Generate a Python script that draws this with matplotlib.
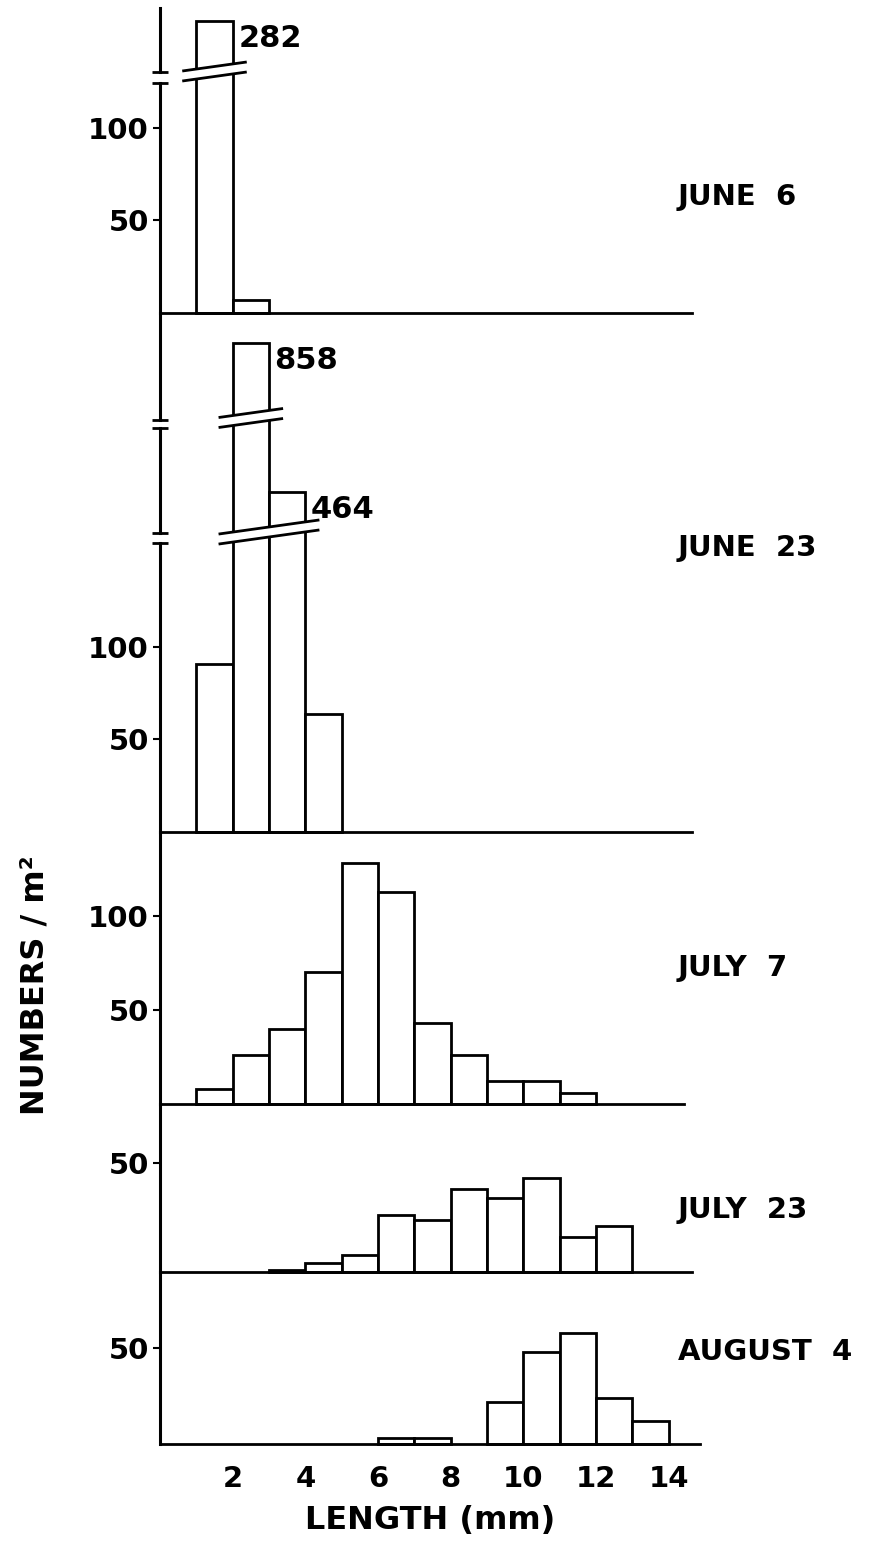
import numpy as np
import matplotlib.pyplot as plt
from matplotlib.patches import Polygon
from matplotlib.transforms import blended_transform_factory

plt.rcParams['font.family'] = ['DejaVu Sans']
plt.rcParams['font.weight'] = 'bold'

# left edge (mm) of each 1 mm length class
class_start = np.arange(1, 14)
length_ticks = [2, 4, 6, 8, 10, 12, 14]

# numbers / m2 in each length class, first class is 1-2 mm
june6 = [282, 7]
june23 = [91, 858, 464, 64]
july7 = [8, 26, 40, 70, 128, 113, 43, 26, 12, 12, 6]
july23 = [0, 0, 1, 4, 8, 26, 24, 38, 34, 43, 16, 21]
aug4 = [0, 0, 0, 0, 0, 3, 3, 0, 22, 48, 58, 24, 12]

dates = ["JUNE  6", "JUNE  23", "JULY  7", "JULY  23", "AUGUST  4"]
series = [june6, june23, july7, july23, aug4]

# ---- layout (pixels) ----
W, H = 878, 1541
X0 = 160          # px of 0 mm
MM = 36.33        # px per mm
XMAX = 14.9
SLOPE = 0.14      # slant of the break marks
GAP = 10          # px between the two break lines

# strips of every panel, top to bottom: (top px, bottom px, y-limits)
strips = [
    [(8, 72, (254.4, 289)), (83, 313, (0, 124.3))],
    [(313, 420, (816.4, 874.2)), (428, 533, (441.8, 498.6)), (543, 832, (0, 156.2))],
    [(832, 1104, (0, 144.7))],
    [(1104, 1272, (0, 77))],
    [(1272, 1444, (0, 89.6))],
]
baseline_end = [14.65, 14.65, 14.42, 14.64, 14.86]
label_y = [197, 548, 968, 1210, 1352]


def y_frac(px, top, bottom):
    return (bottom - px) / (bottom - top)


fig = plt.figure(figsize=(W / 100, H / 100), dpi=100)

for p, vals in enumerate(series):
    vals = np.array(vals)
    starts = class_start[:len(vals)]
    keep = vals > 0
    segs = strips[p]
    n = len(segs)

    # one pair of slanted break lines between neighbouring strips
    breaks = []
    for i in range(n - 1):
        broken = starts[vals > segs[i + 1][2][1]]
        xa, xb = broken.min() - 0.35, broken.max() + 1.35
        yc = (segs[i][1] + segs[i + 1][0]) / 2 - 6
        breaks.append((xa, xb, (xa + xb) / 2, yc))

    for i, (top, bottom, ylim) in enumerate(segs):
        ax = fig.add_axes([X0 / W, 1 - bottom / H, XMAX * MM / W, (bottom - top) / H])
        ax.patch.set_visible(False)
        ax.set_xlim(0, XMAX)
        ax.set_ylim(*ylim)
        trans = blended_transform_factory(ax.transData, ax.transAxes)

        def edge(x, brk, off):
            xa, xb, xc, yc = brk
            return y_frac(yc + off - SLOPE * MM * (x - xc), top, bottom)

        xs = np.array([-1, XMAX + 1])
        yb = edge(xs, breaks[i], -GAP / 2) if i < n - 1 else np.array([-0.05, -0.05])
        yt = edge(xs, breaks[i - 1], GAP / 2) if i > 0 else np.array([1.2, 1.2])
        clip = Polygon([(xs[0], yb[0]), (xs[1], yb[1]), (xs[1], yt[1]), (xs[0], yt[0])],
                       transform=trans)

        bars = ax.bar(starts[keep], vals[keep], width=1, align='edge',
                      facecolor='white', edgecolor='black', linewidth=2)
        for b in bars:
            b.set_clip_path(clip)
            b.set_clip_box(None)

        if i < n - 1:
            xa, xb = breaks[i][:2]
            ax.plot([xa, xb], edge(np.array([xa, xb]), breaks[i], -GAP / 2),
                    transform=trans, color='black', lw=2, clip_on=False)
            ax.plot([0], [0], marker='_', ms=12, mew=2, color='black',
                    transform=trans, clip_on=False)
            # value of the broken bar
            for x, v in zip(starts, vals):
                if ylim[0] < v <= ylim[1]:
                    ax.annotate(f"{v}", xy=(x + 1, v), xytext=(4, -2),
                                textcoords='offset points', ha='left', va='top',
                                fontsize=22)
        if i > 0:
            xa, xb = breaks[i - 1][:2]
            ax.plot([xa, xb], edge(np.array([xa, xb]), breaks[i - 1], GAP / 2),
                    transform=trans, color='black', lw=2, clip_on=False)
            ax.plot([0], [1], marker='_', ms=12, mew=2, color='black',
                    transform=trans, clip_on=False)

        ax.spines['top'].set_visible(False)
        ax.spines['right'].set_visible(False)
        ax.spines['left'].set_linewidth(2.2)
        if i == n - 1:
            ax.spines['bottom'].set_linewidth(2)
            ax.spines['bottom'].set_bounds(0, baseline_end[p])
            ax.set_yticks([t for t in (50, 100) if t < ylim[1]])
        else:
            ax.spines['bottom'].set_visible(False)
            ax.set_yticks([])
        ax.tick_params(axis='y', direction='out', length=5, width=1.5,
                       labelsize=21, pad=3)

        if p == len(series) - 1:
            ax.set_xticks(length_ticks)
            ax.tick_params(axis='x', length=0, labelsize=21, pad=15)
        else:
            ax.set_xticks([])

    fig.text(678 / W, 1 - label_y[p] / H, dates[p], ha='left', va='center', fontsize=21)

fig.text(35 / W, 1 - 985 / H, "NUMBERS / m²", rotation=90, ha='center', va='center',
         fontsize=23)
fig.text(430 / W, 1 - 1520 / H, "LENGTH (mm)", ha='center', va='center', fontsize=23)

fig.savefig("out.png", dpi=100)
